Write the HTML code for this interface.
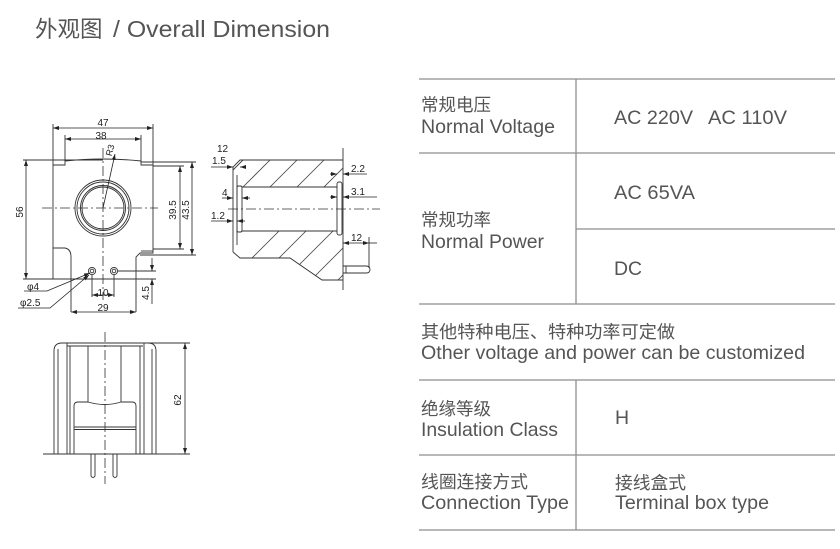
<!DOCTYPE html>
<html><head><meta charset="utf-8"><style>
html,body{margin:0;padding:0;background:#fff;}
svg{display:block;}
</style></head><body>
<svg width="840" height="549" viewBox="0 0 840 549" xmlns="http://www.w3.org/2000/svg">
<defs>
<marker id="ar" markerWidth="6" markerHeight="4" refX="6" refY="2" orient="auto-start-reverse" markerUnits="userSpaceOnUse">
<path d="M0,0 L6,2 L0,4 Z" fill="#222"/>
</marker>
<clipPath id="ctop"><polygon points="233,167 240,160 343,160 343,178 337,183 337,187 242,187 242,185 237,183 233,172"/></clipPath>
<clipPath id="cbot"><polygon points="242,231 337,231 337,235 343,240 343,280 322,280 290,258 240,258 233,252 233,245 237,236 242,233"/></clipPath>
</defs>

<!-- Title -->
<text x="35" y="37" font-family="Liberation Sans, Noto Sans CJK SC, sans-serif" font-size="22.5" fill="#555">外观图</text>
<text x="113" y="37" font-family="Liberation Sans, sans-serif" font-size="23" fill="#555" textLength="217" lengthAdjust="spacingAndGlyphs">/ Overall Dimension</text>

<!-- ================= FRONT VIEW ================= -->
<g fill="none" stroke="#333" stroke-width="0.9">
<!-- body outline -->
<path d="M53,279 L53,165 L65,165 L65,161 Q103,157 141,161 L141,165 L153,165 L153,253 L140,253 L136,257 L136,312"/>
<path d="M53,248 L65,248 Q71,249 71,257 L71,312"/>
<path d="M141,251 L153,251"/>
<!-- bottom line / extension -->
<line x1="23" y1="279" x2="156" y2="279"/>
<!-- top extensions -->
<line x1="53" y1="124" x2="53" y2="165"/>
<line x1="153" y1="124" x2="153" y2="165"/>
<line x1="65" y1="135" x2="65" y2="161"/>
<line x1="141" y1="135" x2="141" y2="161"/>
<line x1="23" y1="160" x2="103" y2="160"/>
<!-- right extensions -->
<line x1="141" y1="162" x2="196" y2="162"/>
<line x1="153" y1="166" x2="184" y2="166"/>
<line x1="153" y1="249" x2="184" y2="249"/>
<line x1="140" y1="255" x2="196" y2="255"/>
<!-- circles -->
<circle cx="103" cy="208" r="28"/>
<circle cx="103" cy="208" r="26"/>
<circle cx="103" cy="208" r="22.5"/>
<circle cx="103" cy="208" r="21"/>
<!-- pins -->
<circle cx="92" cy="271" r="3.6"/>
<circle cx="92" cy="271" r="1.8"/>
<circle cx="114" cy="271" r="3.6"/>
<circle cx="114" cy="271" r="1.8"/>
<!-- pin extensions -->
<line x1="92" y1="275" x2="92" y2="297"/>
<line x1="114" y1="275" x2="114" y2="297"/>
<line x1="118" y1="271" x2="156" y2="271"/>
</g>
<!-- center lines -->
<g stroke="#333" stroke-width="0.8" stroke-dasharray="10,3,2,3" fill="none">
<line x1="42" y1="208" x2="158" y2="208"/>
<line x1="103" y1="148" x2="103" y2="300"/>
</g>
<!-- dimension lines front -->
<g stroke="#222" stroke-width="0.8" fill="none" marker-start="url(#ar)" marker-end="url(#ar)">
<line x1="53" y1="128" x2="153" y2="128"/>
<line x1="65" y1="139" x2="141" y2="139"/>
<line x1="26" y1="160" x2="26" y2="279"/>
<line x1="180" y1="166" x2="180" y2="249"/>
<line x1="192" y1="162" x2="192" y2="255"/>
<line x1="92" y1="295" x2="114" y2="295"/>
<line x1="71" y1="312" x2="136" y2="312"/>
</g>
<g stroke="#222" stroke-width="0.8" fill="none">
<line x1="152" y1="258" x2="152" y2="271" marker-end="url(#ar)"/>
<line x1="152" y1="304" x2="152" y2="279" marker-end="url(#ar)"/>
<line x1="103" y1="208" x2="115" y2="154" marker-end="url(#ar)"/>
<polyline points="24,291 47,291 90,273" marker-end="url(#ar)"/>
<polyline points="18,308 50,308 89,275" marker-end="url(#ar)"/>
</g>
<g font-family="Liberation Sans, sans-serif" font-size="10" fill="#222">
<text x="103" y="126" text-anchor="middle">47</text>
<text x="101" y="139" text-anchor="middle">38</text>
<text x="103" y="296" text-anchor="middle">10</text>
<text x="103" y="311" text-anchor="middle">29</text>
<text x="27" y="290">φ4</text>
<text x="20" y="306">φ2.5</text>
<text transform="translate(23,212) rotate(-90)" text-anchor="middle">56</text>
<text transform="translate(176,210) rotate(-90)" text-anchor="middle">39.5</text>
<text transform="translate(189,210) rotate(-90)" text-anchor="middle">43.5</text>
<text transform="translate(149,293) rotate(-90)" text-anchor="middle">4.5</text>
<text transform="translate(113,151) rotate(-75)" text-anchor="middle" font-size="9">R3</text>
</g>

<!-- ================= SIDE SECTION VIEW ================= -->
<g clip-path="url(#ctop)" stroke="#444" stroke-width="0.8">
<line x1="403" y1="0" x2="203" y2="200" transform="translate(0,0)"/>
</g>
<g stroke="#444" stroke-width="0.8" fill="none">
<g clip-path="url(#ctop)">
<line x1="253" y1="150" x2="203" y2="200"/>
<line x1="280" y1="150" x2="230" y2="200"/>
<line x1="307" y1="150" x2="257" y2="200"/>
<line x1="334" y1="150" x2="284" y2="200"/>
<line x1="361" y1="150" x2="311" y2="200"/>
<line x1="388" y1="150" x2="338" y2="200"/>
</g>
<g clip-path="url(#cbot)">
<line x1="285" y1="225" x2="225" y2="285"/>
<line x1="312" y1="225" x2="252" y2="285"/>
<line x1="339" y1="225" x2="279" y2="285"/>
<line x1="366" y1="225" x2="306" y2="285"/>
<line x1="393" y1="225" x2="333" y2="285"/>
<line x1="420" y1="225" x2="360" y2="285"/>
</g>
</g>
<g fill="none" stroke="#333" stroke-width="0.9">
<path d="M233,252 L233,167 L240,160 L343,160"/>
<path d="M233,252 L240,258 L290,258 L322,280 L343,280"/>
<line x1="343" y1="148" x2="343" y2="290"/>
<line x1="242" y1="187" x2="337" y2="187"/>
<line x1="242" y1="231" x2="337" y2="231"/>
<!-- left plate -->
<line x1="237" y1="175" x2="237" y2="245"/>
<rect x="237" y="186" width="5" height="46" rx="1.5"/>
<!-- right flange -->
<rect x="337" y="182" width="5" height="53" rx="2"/>
<!-- pin -->
<path d="M343,266 L366,266 Q370,266 370,269.5 Q370,273 366,273 L343,273"/>
<line x1="346" y1="266" x2="346" y2="273"/>
<!-- extension -->
<line x1="369" y1="237" x2="369" y2="268"/>
</g>
<g stroke="#333" stroke-width="0.8" stroke-dasharray="10,3,2,3" fill="none">
<line x1="228" y1="209" x2="380" y2="209"/>
</g>
<g stroke="#222" stroke-width="0.8" fill="none">
<line x1="211" y1="167" x2="233" y2="167" marker-end="url(#ar)"/>
<line x1="245" y1="167" x2="240" y2="167" marker-end="url(#ar)"/>
<line x1="222" y1="198" x2="233" y2="198" marker-end="url(#ar)"/>
<line x1="250" y1="198" x2="242" y2="198" marker-end="url(#ar)"/>
<line x1="211" y1="221" x2="233" y2="221" marker-end="url(#ar)"/>
<line x1="245" y1="221" x2="237" y2="221" marker-end="url(#ar)"/>
<line x1="330" y1="174" x2="337" y2="174" marker-end="url(#ar)"/>
<line x1="367" y1="174" x2="343" y2="174" marker-end="url(#ar)"/>
<line x1="330" y1="197" x2="337" y2="197" marker-end="url(#ar)"/>
<line x1="377" y1="197" x2="343" y2="197" marker-end="url(#ar)"/>
<line x1="343" y1="243" x2="369" y2="243" marker-start="url(#ar)" marker-end="url(#ar)"/>
<line x1="369" y1="243" x2="377" y2="243"/>
</g>
<g font-family="Liberation Sans, sans-serif" font-size="10" fill="#222">
<text x="217" y="152">12</text>
<text x="212" y="164">1.5</text>
<text x="222" y="196">4</text>
<text x="211" y="219">1.2</text>
<text x="351" y="172">2.2</text>
<text x="351" y="195">3.1</text>
<text x="351" y="241">12</text>
</g>

<!-- ================= BOTTOM VIEW ================= -->
<g fill="none" stroke="#333" stroke-width="0.9">
<path d="M54,454 L54,351 Q54,343 62,343 L148,343 Q156,343 156,351 L156,454"/>
<line x1="43" y1="454" x2="190" y2="454"/>
<line x1="67" y1="346" x2="143" y2="346"/>
<line x1="58" y1="349" x2="58" y2="454"/>
<line x1="67" y1="343" x2="67" y2="454"/>
<line x1="70" y1="346" x2="70" y2="454"/>
<line x1="88" y1="346" x2="88" y2="402"/>
<line x1="121" y1="346" x2="121" y2="402"/>
<line x1="140" y1="346" x2="140" y2="454"/>
<line x1="144" y1="343" x2="144" y2="454"/>
<line x1="152" y1="349" x2="152" y2="454"/>
<path d="M74,454 L74,406 Q74,402 78,402 L88,402 Q105,407 121,402 L132,402 Q136,402 136,406 L136,454"/>
<line x1="74" y1="427" x2="136" y2="427"/>
<line x1="74" y1="429.5" x2="136" y2="429.5"/>
<!-- pins -->
<path d="M91,454 L91,476 Q93,479 95,476 L95,454"/>
<path d="M113,454 L113,476 Q115,479 117,476 L117,454"/>
<line x1="148" y1="343" x2="190" y2="343"/>
</g>
<g stroke="#333" stroke-width="0.8" stroke-dasharray="10,3,2,3" fill="none">
<line x1="105" y1="332" x2="105" y2="484"/>
</g>
<g stroke="#222" stroke-width="0.8" fill="none">
<line x1="185" y1="343" x2="185" y2="454" marker-start="url(#ar)" marker-end="url(#ar)"/>
</g>
<text transform="translate(181,400) rotate(-90)" text-anchor="middle" font-family="Liberation Sans, sans-serif" font-size="10" fill="#222">62</text>

<!-- ================= TABLE ================= -->
<g stroke="#8e8e8e" stroke-width="1.3">
<line x1="419" y1="79" x2="835" y2="79"/>
<line x1="419" y1="153" x2="835" y2="153"/>
<line x1="576" y1="229" x2="835" y2="229"/>
<line x1="419" y1="304" x2="835" y2="304"/>
<line x1="419" y1="380" x2="835" y2="380"/>
<line x1="419" y1="455" x2="835" y2="455"/>
<line x1="419" y1="530" x2="835" y2="530"/>
<line x1="576" y1="79" x2="576" y2="304"/>
<line x1="576" y1="380" x2="576" y2="530"/>
</g>
<g font-family="Liberation Sans, Noto Sans CJK SC, sans-serif" fill="#555">
<text x="421" y="111" font-size="17.5">常规电压</text>
<text x="421" y="133" font-size="19.5" textLength="134" lengthAdjust="spacingAndGlyphs">Normal Voltage</text>
<text x="614" y="124" font-size="19.5" textLength="79" lengthAdjust="spacingAndGlyphs">AC 220V</text>
<text x="708" y="124" font-size="19.5" textLength="79" lengthAdjust="spacingAndGlyphs">AC 110V</text>

<text x="614" y="199" font-size="19.5" textLength="81" lengthAdjust="spacingAndGlyphs">AC 65VA</text>
<text x="421" y="226" font-size="17.5">常规功率</text>
<text x="421" y="248" font-size="19.5" textLength="123" lengthAdjust="spacingAndGlyphs">Normal Power</text>
<text x="614" y="275" font-size="19.5" textLength="28" lengthAdjust="spacingAndGlyphs">DC</text>

<text x="421" y="338" font-size="17.5" textLength="254" lengthAdjust="spacingAndGlyphs">其他特种电压、特种功率可定做</text>
<text x="421" y="359" font-size="19.5" textLength="384" lengthAdjust="spacingAndGlyphs">Other voltage and power can be customized</text>

<text x="421" y="415" font-size="17.5">绝缘等级</text>
<text x="421" y="436" font-size="19.5" textLength="137" lengthAdjust="spacingAndGlyphs">Insulation Class</text>
<text x="615" y="424" font-size="19.5">H</text>

<text x="421" y="488" font-size="17.5" textLength="107" lengthAdjust="spacingAndGlyphs">线圈连接方式</text>
<text x="421" y="509" font-size="19.5" textLength="148" lengthAdjust="spacingAndGlyphs">Connection Type</text>
<text x="615" y="489" font-size="17.5" textLength="71" lengthAdjust="spacingAndGlyphs">接线盒式</text>
<text x="615" y="509" font-size="19.5" textLength="154" lengthAdjust="spacingAndGlyphs">Terminal box type</text>
</g>
</svg>
</body></html>
